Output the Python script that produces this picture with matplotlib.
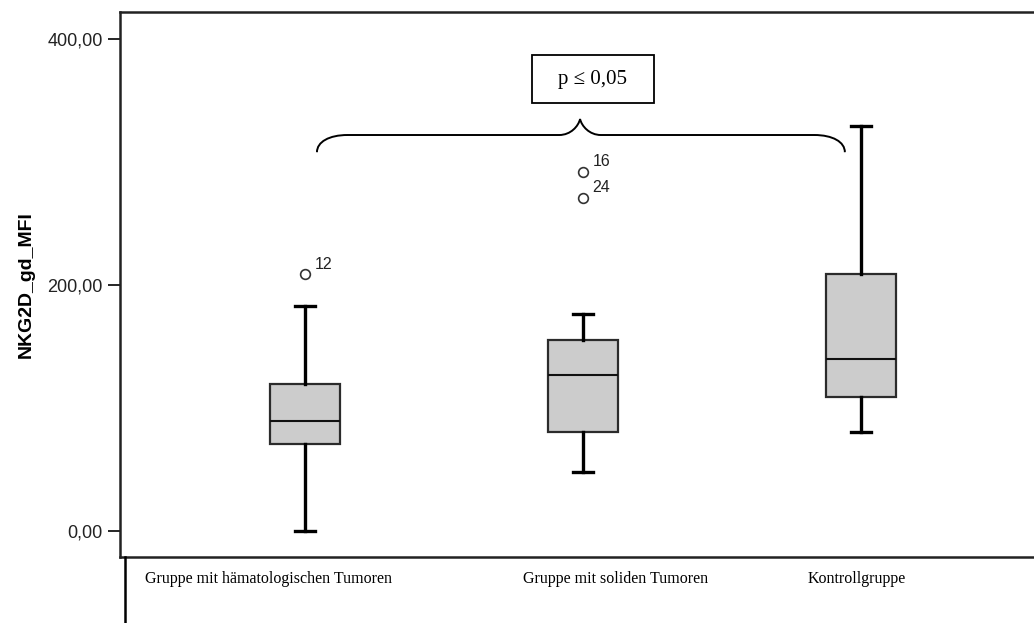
import matplotlib.pyplot as plt
from matplotlib.path import Path
from matplotlib.patches import PathPatch, Rectangle
from matplotlib.lines import Line2D

# Gruppen und Kennwerte der Boxplots (NKG2D gd MFI)
gruppen = ['Gruppe mit hämatologischen Tumoren', 'Gruppe mit soliden Tumoren', 'Kontrollgruppe']
whisker_unten = [0.0, 47.5, 80.0]
q1 = [70.5, 80.5, 108.5]
median = [89.0, 127.0, 139.5]
q3 = [119.0, 155.0, 208.5]
whisker_oben = [183.0, 176.0, 329.5]
ausreisser = [[208.5], [292.0, 271.0], []]
ausreisser_nr = [['12'], ['16', '24'], []]

y_ticks = [0, 200, 400]
y_tick_labels = ['0,00', '200,00', '400,00']

W, H = 1034, 623
fig = plt.figure(figsize=(W / 100, H / 100), dpi=100)
ax = fig.add_axes([120 / W, 66 / H, 920 / W, 545 / H])

stats = []
for i in range(len(gruppen)):
    stats.append(dict(med=median[i], q1=q1[i], q3=q3[i],
                      whislo=whisker_unten[i], whishi=whisker_oben[i],
                      fliers=ausreisser[i], label=gruppen[i]))

pos = [1, 2, 3]
ax.bxp(stats, positions=pos, widths=0.25, capwidths=0.07, patch_artist=True,
       boxprops=dict(facecolor='#cccccc', edgecolor='#2b2b2b', linewidth=1.6),
       medianprops=dict(color='#111111', linewidth=1.5),
       whiskerprops=dict(color='black', linewidth=2.4),
       capprops=dict(color='black', linewidth=2.4),
       flierprops=dict(marker='o', markersize=7, markerfacecolor='white',
                       markeredgecolor='#333333', markeredgewidth=1.2))

# Fallnummern der Ausreisser
for p, werte, nummern in zip(pos, ausreisser, ausreisser_nr):
    for v, n in zip(werte, nummern):
        ax.annotate(n, (p, v), xytext=(7, 4), textcoords='offset points',
                    fontsize=11.5, family='Liberation Sans', color='#222222')

ax.set_xlim(0.3345, 3.644)
ax.set_ylim(-21.4, 422.1)
ax.set_xticks([])
ax.set_yticks(y_ticks)
ax.set_yticklabels(y_tick_labels, family='Liberation Sans', fontsize=13, color='#222222')
ax.tick_params(axis='y', length=8.5, width=1.2, pad=4)
ax.set_ylabel('NKG2D_gd_MFI', family='Liberation Sans', fontsize=14,
              fontweight='bold', labelpad=9)
ax.spines['right'].set_visible(False)
for s in ['left', 'top', 'bottom']:
    ax.spines[s].set_linewidth(1.8)
    ax.spines[s].set_color('#222222')

# geschweifte Klammer zwischen Gruppe 1 und Kontrollgruppe
x0, x1 = 1.043, 2.942
xc = (x0 + x1) / 2 - 0.003
yb, yt, ys = 308.0, 322.0, 335.0
w, w2 = 0.11, 0.075
verts = [
    (x0, yb),
    (x0, yb + 0.6 * (yt - yb)), (x0 + 0.4 * w, yt), (x0 + w, yt),
    (xc - w2, yt),
    (xc - 0.45 * w2, yt), (xc - 0.08 * w2, ys - 0.45 * (ys - yt)), (xc, ys),
    (xc + 0.08 * w2, ys - 0.45 * (ys - yt)), (xc + 0.45 * w2, yt), (xc + w2, yt),
    (x1 - w, yt),
    (x1 - 0.4 * w, yt), (x1, yb + 0.6 * (yt - yb)), (x1, yb),
]
codes = ([Path.MOVETO] + [Path.CURVE4] * 3 + [Path.LINETO] + [Path.CURVE4] * 6
         + [Path.LINETO] + [Path.CURVE4] * 3)
ax.add_patch(PathPatch(Path(verts, codes), facecolor='none', edgecolor='black', lw=1.4))

# Signifikanzkasten
ax.add_patch(Rectangle((2.036 - 0.2195, 348.0), 0.439, 39.0, facecolor='white',
                       edgecolor='black', lw=1.3))
ax.text(2.036, 367.5, 'p ≤ 0,05', ha='center', va='center',
        family='Liberation Serif', fontsize=15)

# Beschriftungszeile unter dem Diagramm
fig.add_artist(Line2D([125 / W, 125 / W], [0, 66 / H], color='black', lw=1.8))
label_x = [145, 523, 808]
for lx, g in zip(label_x, gruppen):
    fig.text(lx / W, 1 - 579 / H, g, ha='left', va='center',
             family='Liberation Serif', fontsize=11.5)

fig.savefig('out.png', dpi=100)
